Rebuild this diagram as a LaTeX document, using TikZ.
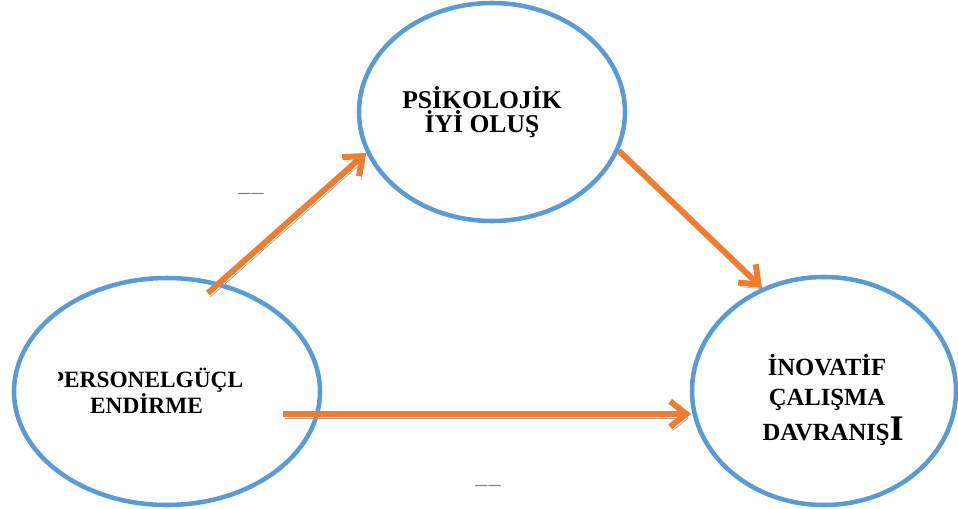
\documentclass[tikz,border=0pt]{standalone}
\usepackage{fontspec}
\setmainfont{Liberation Serif}
\usetikzlibrary{arrows.meta,shapes.geometric}
\definecolor{ringblue}{HTML}{5B9BD5}
\definecolor{arroworange}{HTML}{ED7D31}
\definecolor{shadowgray}{HTML}{999999}

\begin{document}
\begin{tikzpicture}[x=0.75pt,y=-0.75pt,
  ring/.style={ellipse, draw=ringblue, line width=3.4pt, inner sep=0pt},
  caption/.style={inner sep=0pt, anchor=base, align=center},
  flow/.style={draw=arroworange, line width=4.5pt,
    -{Straight Barb[length=12pt,width=19pt]},
    preaction={draw=shadowgray, transform canvas={shift={(1.6pt,-3pt)}}}},
  blank/.style={font=\fontsize{18}{18}\selectfont, text=gray, inner sep=0pt, anchor=base}]
\useasboundingbox (0,0) rectangle (958,508);

% the three constructs
\node[ring, minimum width=229.5pt, minimum height=170.25pt] (emp) at (167,391.5) {};
\node[ring, minimum width=199.5pt, minimum height=163.5pt] (psy) at (492,112) {};
\node[ring, minimum width=198pt, minimum height=171pt] (inv) at (824,391) {};

% labels (base anchor sits on the last line)
\begin{scope}
  \clip (58,340) rectangle (320,430);
  \node[caption, font=\fontsize{17.5}{19.5}\selectfont\bfseries] (empl) at (146.5,413)
    {PERSONELGÜÇL\\ENDİRME};
\end{scope}

\node[caption, font=\fontsize{19.2}{17.6}\selectfont\bfseries] (psyl) at (482,132)
  {PSİKOLOJİK\\İYİ OLUŞ};

\node[caption, font=\fontsize{18.5}{22.5}\selectfont\bfseries] (invl) at (827,440)
  {İNOVATİF\\ÇALIŞMA\\[3.5pt]\hspace*{0.5em}DAVRANIŞ{\fontsize{27}{27}\selectfont I}};

% path blanks
\node[blank] (b1) at (251,191.5) {\_\kern0.8pt\_};
\node[blank] (b2) at (488,483.5) {\_\kern0.8pt\_};

% paths
\coordinate (a1) at (208,293);
\coordinate (a3) at (283,414);
\coordinate (e3) at (691,414);
\draw[flow] (a1) -- (psy.198);
\draw[flow] (psy.343) -- (inv.121);
\draw[flow] (a3) -- (e3);
\end{tikzpicture}
\end{document}
